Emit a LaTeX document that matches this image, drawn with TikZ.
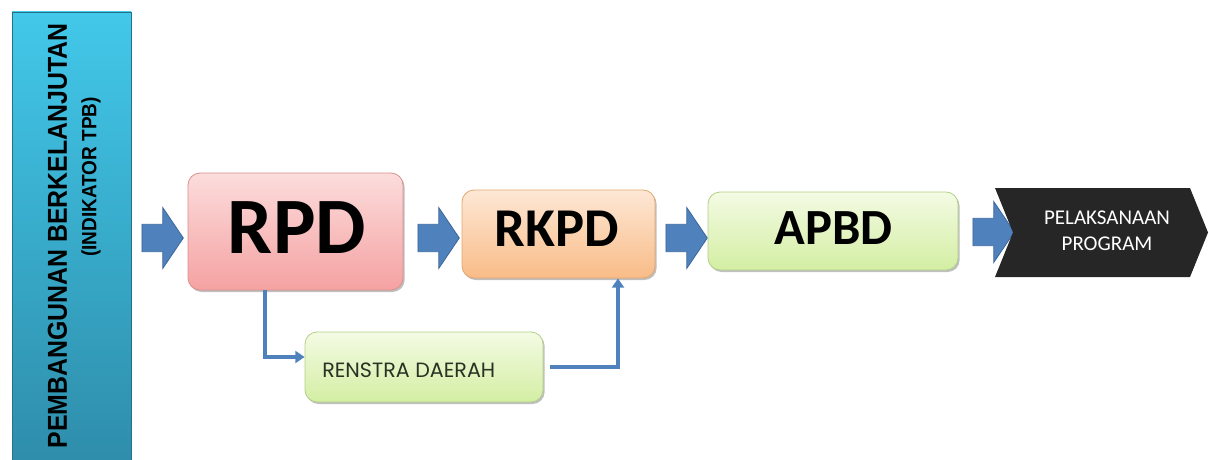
\documentclass[tikz,border=0pt]{standalone}
\usepackage{fontspec}
\setmainfont{Carlito}
\newfontfamily\arialfont{Liberation Sans}
\newfontfamily\renfont{Poppins}
\usetikzlibrary{shapes.arrows,arrows.meta,shadows}
\definecolor{arrowblue}{HTML}{4F81BD}
\definecolor{arrowedge}{HTML}{3C679C}
\definecolor{bartop}{HTML}{42C8EA}
\definecolor{barbot}{HTML}{2E8DAA}
\definecolor{pinktop}{HTML}{FCDCDC}
\definecolor{pinkbot}{HTML}{F5A2A2}
\definecolor{pinkedge}{HTML}{D98F8E}
\definecolor{orangetop}{HTML}{FDE8D6}
\definecolor{orangebot}{HTML}{F9BC87}
\definecolor{orangeedge}{HTML}{E2A66E}
\definecolor{greentop}{HTML}{F4FBE4}
\definecolor{greenbot}{HTML}{D3EEA3}
\definecolor{greenedge}{HTML}{B3CE89}
\definecolor{chevron}{HTML}{262626}
\definecolor{rentext}{HTML}{2A3323}
\tikzset{
  blockarrow/.style={single arrow, draw=arrowedge, line width=0.6pt, fill=arrowblue,
    minimum height=31pt, inner xsep=0pt, inner ysep=10pt,
    single arrow head extend=12.5pt, single arrow tip angle=112, shape border rotate=0},
  stagebox/.style={rectangle, rounded corners=9pt, line width=0.6pt, inner sep=0pt,
    drop shadow={shadow xshift=1.2pt, shadow yshift=-1.5pt, opacity=0.25, fill=black}},
  pinkbox/.style={stagebox, draw=pinkedge, top color=pinktop, bottom color=pinkbot},
  orangebox/.style={stagebox, draw=orangeedge, top color=orangetop, bottom color=orangebot},
  greenbox/.style={stagebox, draw=greenedge, top color=greentop, bottom color=greenbot},
  conn/.style={draw=arrowblue, line width=3pt, -{Triangle[length=7pt,width=9pt]}},
  bartext/.style={rotate=90, inner sep=0pt, text=black},
}
\begin{document}
\begin{tikzpicture}[x=0.75pt,y=-0.75pt]
\path[use as bounding box] (0,0) rectangle (1209,460);

% left bar
\node[rectangle, inner sep=0pt, minimum width=89.25pt, minimum height=339pt,
      top color=bartop, bottom color=barbot, draw=barbot!80!black, line width=0.4pt]
      (bar) at (71.5,238) {};
\node[bartext, font=\arialfont\bfseries\fontsize{20.5}{22}\selectfont]
      (bartext1) at (57.5,236) {\scalebox{0.91}[1]{PEMBANGUNAN BERKELANJUTAN}};
\node[bartext, font=\arialfont\bfseries\fontsize{15.5}{17}\selectfont]
      (bartext2) at (91,177) {\scalebox{0.92}[1]{(INDIKATOR TPB)}};

% block arrows
\node[blockarrow] (a1) at (158,238) {};
\node[blockarrow] (a2) at (434,238) {};
\node[blockarrow] (a3) at (682,238) {};
\node[blockarrow] (a4) at (989,232) {};

% stage boxes
\node[pinkbox, minimum width=161.25pt, minimum height=87.75pt] (rpd) at (295.5,231.5) {};
\node[font=\bfseries\fontsize{60}{60}\selectfont, inner sep=0pt] (rpdt) at (297,228) {RPD};

\node[orangebox, minimum width=144.75pt, minimum height=66pt] (rkpd) at (558.5,234) {};
\node[font=\bfseries\fontsize{41}{41}\selectfont, inner sep=0pt] (rkpdt) at (557,229) {RKPD};

\node[greenbox, minimum width=187.5pt, minimum height=58.5pt] (apbd) at (833,231) {};
\node[font=\bfseries\fontsize{38}{38}\selectfont, inner sep=0pt] (apbdt) at (833.5,228) {APBD};

\node[greenbox, minimum width=178.5pt, minimum height=52.5pt] (ren) at (424,367) {};
\node[anchor=west, inner sep=0pt, text=rentext, font=\renfont\fontsize{15.5}{17}\selectfont]
      (rent) at (322,370.5) {RENSTRA DAERAH};

% chevron
\fill[chevron] (995,188) -- (1190,188) -- (1208,232.5) -- (1190,277) -- (995,277) -- (1013,232.5) -- cycle;
\node[text=white, align=center, inner sep=0pt, font=\fontsize{15.75}{19.5}\selectfont]
      (prog) at (1107,231) {PELAKSANAAN\\PROGRAM};

% connectors
\coordinate (c1x) at (265,0);
\coordinate (c2x) at (618,0);
\draw[conn] (rpd.south -| c1x) |- ([yshift=7.5pt]ren.west);
\draw[conn] ([xshift=5.25pt]ren.east) -| (rkpd.south -| c2x);
\end{tikzpicture}
\end{document}
